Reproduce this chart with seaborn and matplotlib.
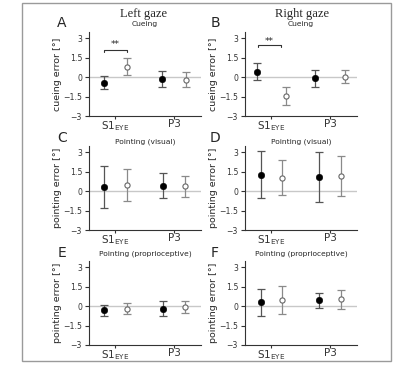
import numpy as np
import pandas as pd
import matplotlib
matplotlib.use("Agg")
import matplotlib.pyplot as plt
import seaborn as sns
from matplotlib.patches import Rectangle

# categories and groups (filled = black dot, open = hollow circle)
conditions = [r"S1$_{\mathrm{EYE}}$", "P3"]
groups = ["filled", "open"]

# values per panel, order: S1 filled, S1 open, P3 filled, P3 open
cue_left_mean = [-0.42, 0.83, -0.12, -0.18]
cue_left_err = [0.52, 0.62, 0.63, 0.55]
cue_right_mean = [0.44, -1.45, -0.08, 0.05]
cue_right_err = [0.63, 0.73, 0.64, 0.53]
vis_left_mean = [0.35, 0.47, 0.41, 0.37]
vis_left_err = [1.63, 1.26, 0.97, 0.81]
vis_right_mean = [1.29, 1.06, 1.10, 1.18]
vis_right_err = [1.81, 1.32, 1.90, 1.52]
prop_left_mean = [-0.32, -0.18, -0.18, -0.08]
prop_left_err = [0.45, 0.44, 0.57, 0.46]
prop_right_mean = [0.30, 0.48, 0.46, 0.54]
prop_right_err = [1.03, 1.06, 0.60, 0.73]

yticks = [-3, -1.5, 0, 1.5, 3]
ytick_labels = ["\u22123", "\u22121.5", "0", "1.5", "3"]

sns.set_style("ticks")
plt.rcParams["font.family"] = ["DejaVu Sans"]

fig = plt.figure(figsize=(3.94, 3.68), dpi=100)
fig.patch.set_facecolor("white")

W, H = 394, 368
lefts = [89 / W, 245 / W]
bottoms = [(H - 116) / H, (H - 230) / H, (H - 345) / H]
aw = 112 / W
ah = 84 / H

panels = [
    ("A", "Cueing", "cueing error [°]", cue_left_mean, cue_left_err, 0, 0, 0.20, 1.095),
    ("B", "Cueing", "cueing error [°]", cue_right_mean, cue_right_err, 0, 1, 0.25, 1.095),
    ("C", "Pointing (visual)", "pointing error [°]", vis_left_mean, vis_left_err, 1, 0, 0.19, 1.055),
    ("D", "Pointing (visual)", "pointing error [°]", vis_right_mean, vis_right_err, 1, 1, 0.18, 1.055),
    ("E", "Pointing (proprioceptive)", "pointing error [°]", prop_left_mean, prop_left_err, 2, 0, 0.19, 1.09),
    ("F", "Pointing (proprioceptive)", "pointing error [°]", prop_right_mean, prop_right_err, 2, 1, 0.18, 1.09),
]

for letter, title, ylabel, means, errs, row, col, dodge, ty in panels:
    ax = fig.add_axes([lefts[col], bottoms[row], aw, ah])
    df = pd.DataFrame({
        "cond": np.repeat(np.arange(len(conditions)), len(groups)),
        "group": groups * len(conditions),
        "mean": means,
        "err": errs,
    })
    df["x"] = df["cond"] + np.where(df["group"] == "filled", -dodge, dodge)

    ax.axhline(0, color="#c8c8c8", lw=1, zorder=0)

    for g, ecol in [("filled", "#555555"), ("open", "#8a8a8a")]:
        sub = df[df["group"] == g]
        ax.errorbar(sub["x"], sub["mean"], yerr=sub["err"], fmt="none",
                    ecolor=ecol, elinewidth=0.9, capsize=3, capthick=0.9, zorder=2)

    sns.scatterplot(data=df[df["group"] == "filled"], x="x", y="mean", ax=ax,
                    color="black", edgecolor="black", s=22, zorder=3, legend=False)
    sns.scatterplot(data=df[df["group"] == "open"], x="x", y="mean", ax=ax,
                    color="white", edgecolor="#666666", linewidth=0.8, s=14,
                    zorder=3, legend=False)

    ax.set_xlim(-0.45, 1.46)
    ax.set_ylim(-3, 3.5)
    ax.set_xticks(range(len(conditions)))
    ax.set_xticklabels(conditions, fontsize=7.5)
    ax.set_yticks(yticks)
    ax.set_yticklabels(ytick_labels, fontsize=5.6)
    ax.tick_params(axis="y", length=3, width=0.8, pad=2, colors="#333333")
    ax.tick_params(axis="x", length=2, width=0.8, pad=0.5, colors="#333333")
    ax.set_xlabel("")
    ax.set_ylabel(ylabel, fontsize=6.8)
    ax.yaxis.set_label_coords(-0.245, 0.5)
    ax.text(0.5, ty, title, transform=ax.transAxes, ha="center", va="center", fontsize=5.4)
    sns.despine(ax=ax)
    for sp in ["left", "bottom"]:
        ax.spines[sp].set_linewidth(0.8)
        ax.spines[sp].set_color("#333333")
    ax.spines["left"].set_bounds(-3, 3.5)

    # panel letter
    lx = (62 if col == 0 else 215) / W
    ly = 1 - [23, 138, 253][row] / H
    fig.text(lx, ly, letter, fontsize=10, ha="center", va="center")

    # significance bracket for cueing
    if row == 0:
        by, bt, sy = (2.12, 1.95, 2.5) if col == 0 else (2.52, 2.33, 2.8)
        x0, x1 = (-dodge, dodge) if col == 0 else (-0.22, 0.16)
        ax.plot([x0, x0, x1, x1], [bt, by, by, bt], color="#333333", lw=0.8)
        ax.text((x0 + x1) / 2, sy, "**", ha="center", va="center", fontsize=6.5)

fig.text(144 / W, 1 - 14 / H, "Left gaze", family="Liberation Serif", fontsize=9,
         ha="center", va="center")
fig.text(302 / W, 1 - 14 / H, "Right gaze", family="Liberation Serif", fontsize=9,
         ha="center", va="center")

# outer frame of the figure box
fig.add_artist(Rectangle((22 / W, (H - 361) / H), (391 - 22) / W, (361 - 3) / H,
                         transform=fig.transFigure, fill=False,
                         edgecolor="#9a9a9a", lw=1))

fig.savefig("out.png", dpi=100)
